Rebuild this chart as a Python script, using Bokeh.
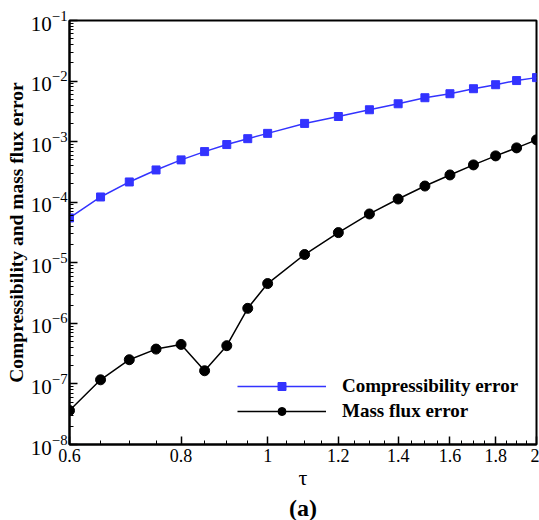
from bokeh.plotting import figure
from bokeh.models import Range1d, FixedTicker, Title, LogTicker
from bokeh.embed import file_html
from bokeh.resources import INLINE

# ---- data ----
tau = [0.6, 0.65, 0.7, 0.75, 0.8, 0.85, 0.9, 0.95, 1.0, 1.1, 1.2, 1.3, 1.4, 1.5, 1.6, 1.7, 1.8, 1.9, 2.0]
compressibility_error = [5.5e-5, 1.22e-4, 2.16e-4, 3.41e-4, 5.0e-4, 6.85e-4, 8.95e-4, 1.12e-3, 1.37e-3,
                         2.0e-3, 2.6e-3, 3.36e-3, 4.22e-3, 5.31e-3, 6.18e-3, 7.48e-3, 8.71e-3, 1.02e-2, 1.14e-2]
mass_flux_error = [3.63e-8, 1.17e-7, 2.51e-7, 3.76e-7, 4.49e-7, 1.65e-7, 4.28e-7, 1.77e-6, 4.54e-6,
                   1.37e-5, 3.15e-5, 6.4e-5, 1.13e-4, 1.85e-4, 2.82e-4, 4.13e-4, 5.82e-4, 7.89e-4, 1.07e-3]

x_major_ticks = [0.6, 0.8, 1.0, 1.2, 1.4, 1.6, 1.8, 2.0]
x_major_labels = ["0.6", "0.8", "1", "1.2", "1.4", "1.6", "1.8", "2"]
x_minor_ticks = [0.65, 0.7, 0.75, 0.85, 0.9, 0.95, 1.05, 1.1, 1.15, 1.25, 1.3, 1.35, 1.45, 1.5, 1.55,
                 1.65, 1.7, 1.75, 1.85, 1.9, 1.95]

FONT = "Liberation Serif"
BLUE = "#3333ff"

p = figure(width=539, height=520, x_axis_type="log", y_axis_type="log",
           x_range=Range1d(0.6, 2.0), y_range=Range1d(1e-8, 1e-1),
           output_backend="svg", toolbar_location=None,
           min_border_left=69, min_border_right=3, min_border_top=20, min_border_bottom=5)

p.line(tau, compressibility_error, color=BLUE, line_width=1.5, legend_label="Compressibility error")
p.scatter(tau, compressibility_error, marker="square", size=8, color=BLUE, legend_label="Compressibility error")
p.line(tau, mass_flux_error, color="black", line_width=1.5, legend_label="Mass flux error")
p.scatter(tau, mass_flux_error, marker="circle", size=10, color="black", legend_label="Mass flux error")

p.grid.visible = False
p.outline_line_color = "black"
p.outline_line_width = 2
p.background_fill_color = "white"
p.border_fill_color = "white"

p.xaxis.ticker = FixedTicker(ticks=x_major_ticks, minor_ticks=x_minor_ticks)
p.xaxis.major_label_overrides = {t: l for t, l in zip(x_major_ticks, x_major_labels)}
p.yaxis.ticker = LogTicker(num_minor_ticks=10)

for ax in (p.xaxis[0], p.yaxis[0]):
    ax.axis_line_width = 2
    ax.major_tick_in = 8
    ax.major_tick_out = 0
    ax.minor_tick_in = 4
    ax.minor_tick_out = 0
    ax.major_tick_line_width = 1.5
    ax.major_label_text_font = FONT
    ax.major_label_text_color = "black"
    ax.axis_label_text_font = FONT
    ax.axis_label_text_color = "black"

p.xaxis.major_label_text_font_size = "18px"
p.yaxis.major_label_text_font_size = "21px"

p.xaxis.axis_label = "τ"
p.xaxis.axis_label_text_font_style = "normal"
p.xaxis.axis_label_text_font_size = "22px"
p.xaxis.axis_label_standoff = 0
p.xaxis.major_label_standoff = 4

p.yaxis.axis_label = "Compressibility and mass flux error"
p.yaxis.axis_label_text_font_style = "bold"
p.yaxis.axis_label_text_font_size = "19.5px"
p.yaxis.axis_label_standoff = 1
p.yaxis.major_label_standoff = 2

p.add_layout(Title(text="(a)", align="center", text_font=FONT, text_font_size="24px",
                   text_font_style="bold", text_color="black", standoff=0), "below")

lg = p.legend[0]
lg.location = (168, 22)
lg.padding = 0
lg.margin = 0
lg.spacing = 3
lg.glyph_width = 89
lg.label_standoff = 16
lg.border_line_color = None
lg.background_fill_alpha = 0
lg.label_text_font = FONT
lg.label_text_font_style = "bold"
lg.label_text_font_size = "19px"
lg.label_text_color = "black"

open("out.html", "w").write(file_html(p, INLINE))
